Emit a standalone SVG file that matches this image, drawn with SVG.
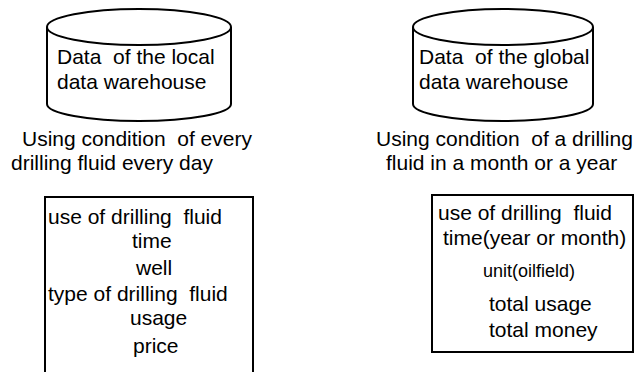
<svg xmlns="http://www.w3.org/2000/svg" width="637" height="372" viewBox="0 0 637 372">
<style>
.shape{fill:#fff;stroke:#000;stroke-width:2}
.t{font-family:"Liberation Sans",Arial,sans-serif;font-size:21px;fill:#000;white-space:pre}
.s{font-size:18px}
</style>
<rect width="637" height="372" fill="#fff"/>
<g id="local-warehouse">
<path class="shape" d="M47,27 L47,104 A92,17 0 0 0 231,104 L231,27"/>
<ellipse class="shape" cx="139" cy="27" rx="92" ry="18"/>
<text class="t" x="57" y="64">Data  of the local</text>
<text class="t" x="57" y="89">data warehouse</text>
</g>
<g id="global-warehouse">
<path class="shape" d="M413,27 L413,104 A90,17 0 0 0 593,104 L593,27"/>
<ellipse class="shape" cx="503" cy="27" rx="90" ry="18"/>
<text class="t" x="419" y="64">Data  of the global</text>
<text class="t" x="419" y="89">data warehouse</text>
</g>
<g id="local-caption">
<text class="t" x="22" y="146">Using condition  of every</text>
<text class="t" x="11" y="170">drilling fluid every day</text>
</g>
<g id="global-caption">
<text class="t" x="376" y="146">Using condition  of a drilling</text>
<text class="t" x="386" y="170">fluid in a month or a year</text>
</g>
<g id="local-table">
<rect class="shape" x="45" y="197" width="208" height="190"/>
<text class="t" x="48" y="224">use of drilling  fluid</text>
<text class="t" x="132" y="248">time</text>
<text class="t" x="136" y="275">well</text>
<text class="t" x="48" y="301">type of drilling  fluid</text>
<text class="t" x="130" y="325">usage</text>
<text class="t" x="133" y="353">price</text>
</g>
<g id="global-table">
<rect class="shape" x="432" y="195" width="201" height="157"/>
<text class="t" x="438" y="220">use of drilling  fluid</text>
<text class="t" x="443" y="245">time(year or month)</text>
<text class="t s" x="483" y="277">unit(oilfield)</text>
<text class="t" x="489" y="311">total usage</text>
<text class="t" x="489" y="337">total money</text>
</g>
<g id="connectors"/>
</svg>
